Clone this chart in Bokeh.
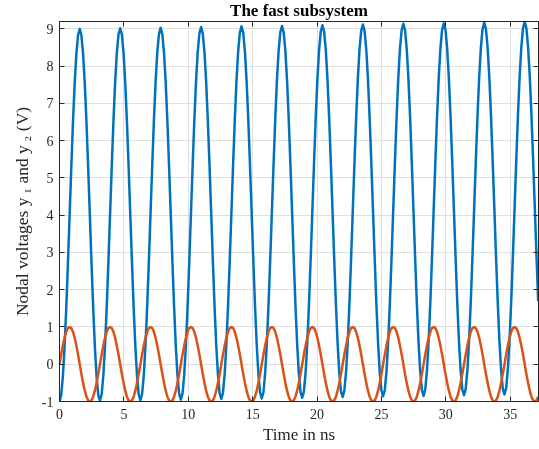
import numpy as np
from bokeh.plotting import figure
from bokeh.models import LinearAxis, Range1d, FixedTicker, Title, ColumnDataSource
from bokeh.embed import file_html
from bokeh.resources import INLINE

# ---------------- data ----------------
# samples are spaced 1/24 of one oscillation period (period ~ 3.14 ns)
SAMPLE_STEP_NS = np.pi / 24

# y1 (blue), one row per oscillation period; the level creeps up slightly
y1_rows = [
    [-1.00, -0.83, -0.33, 0.46, 1.50, 2.71, 4.00, 5.29, 6.50, 7.54, 8.33, 8.83, 9.00, 8.83, 8.33, 7.54, 6.50, 5.29, 4.00, 2.71, 1.50, 0.46, -0.33, -0.83],
    [-0.98, -0.81, -0.31, 0.48, 1.52, 2.73, 4.02, 5.31, 6.52, 7.56, 8.35, 8.85, 9.02, 8.85, 8.35, 7.56, 6.52, 5.31, 4.02, 2.73, 1.52, 0.48, -0.31, -0.81],
    [-0.97, -0.80, -0.30, 0.49, 1.53, 2.74, 4.03, 5.32, 6.53, 7.57, 8.36, 8.86, 9.03, 8.86, 8.36, 7.57, 6.53, 5.32, 4.03, 2.74, 1.53, 0.49, -0.30, -0.80],
    [-0.95, -0.78, -0.28, 0.51, 1.55, 2.76, 4.05, 5.34, 6.55, 7.59, 8.38, 8.88, 9.05, 8.88, 8.38, 7.59, 6.55, 5.34, 4.05, 2.76, 1.55, 0.51, -0.28, -0.78],
    [-0.93, -0.76, -0.26, 0.53, 1.57, 2.78, 4.07, 5.36, 6.57, 7.61, 8.40, 8.90, 9.07, 8.90, 8.40, 7.61, 6.57, 5.36, 4.07, 2.78, 1.57, 0.53, -0.26, -0.76],
    [-0.92, -0.75, -0.25, 0.54, 1.58, 2.79, 4.08, 5.37, 6.58, 7.62, 8.41, 8.91, 9.08, 8.91, 8.41, 7.62, 6.58, 5.37, 4.08, 2.79, 1.58, 0.54, -0.25, -0.75],
    [-0.90, -0.73, -0.23, 0.56, 1.60, 2.81, 4.10, 5.39, 6.60, 7.64, 8.43, 8.93, 9.10, 8.93, 8.43, 7.64, 6.60, 5.39, 4.10, 2.81, 1.60, 0.56, -0.23, -0.73],
    [-0.88, -0.71, -0.21, 0.58, 1.62, 2.83, 4.12, 5.41, 6.62, 7.66, 8.45, 8.95, 9.12, 8.95, 8.45, 7.66, 6.62, 5.41, 4.12, 2.83, 1.62, 0.58, -0.21, -0.71],
    [-0.86, -0.69, -0.19, 0.60, 1.64, 2.85, 4.14, 5.43, 6.64, 7.68, 8.47, 8.97, 9.14, 8.97, 8.47, 7.68, 6.64, 5.43, 4.14, 2.85, 1.64, 0.60, -0.19, -0.69],
    [-0.85, -0.68, -0.18, 0.61, 1.65, 2.86, 4.15, 5.44, 6.65, 7.69, 8.48, 8.98, 9.15, 8.98, 8.48, 7.69, 6.65, 5.44, 4.15, 2.86, 1.65, 0.61, -0.18, -0.68],
    [-0.83, -0.66, -0.16, 0.63, 1.67, 2.88, 4.17, 5.46, 6.67, 7.71, 8.50, 9.00, 9.17, 9.00, 8.50, 7.71, 6.67, 5.46, 4.17, 2.88, 1.67, 0.63, -0.16, -0.66],
    [-0.81, -0.64, -0.14, 0.65, 1.69, 2.90, 4.19, 5.48, 6.69, 7.73, 8.52, 9.02, 9.19, 9.02, 8.52, 7.73, 6.69, 5.48, 4.19, 2.90, 1.69],
]

# y2 (orange), same sampling
y2_rows = [
    [0, 0.26, 0.5, 0.71, 0.87, 0.97, 1, 0.97, 0.87, 0.71, 0.5, 0.26, 0, -0.26, -0.5, -0.71, -0.87, -0.97, -1, -0.97, -0.87, -0.71, -0.5, -0.26],
    [0, 0.26, 0.5, 0.71, 0.87, 0.97, 1, 0.97, 0.87, 0.71, 0.5, 0.26, 0, -0.26, -0.5, -0.71, -0.87, -0.97, -1, -0.97, -0.87, -0.71, -0.5, -0.26],
    [0, 0.26, 0.5, 0.71, 0.87, 0.97, 1, 0.97, 0.87, 0.71, 0.5, 0.26, 0, -0.26, -0.5, -0.71, -0.87, -0.97, -1, -0.97, -0.87, -0.71, -0.5, -0.26],
    [0, 0.26, 0.5, 0.71, 0.87, 0.97, 1, 0.97, 0.87, 0.71, 0.5, 0.26, 0, -0.26, -0.5, -0.71, -0.87, -0.97, -1, -0.97, -0.87, -0.71, -0.5, -0.26],
    [0, 0.26, 0.5, 0.71, 0.87, 0.97, 1, 0.97, 0.87, 0.71, 0.5, 0.26, 0, -0.26, -0.5, -0.71, -0.87, -0.97, -1, -0.97, -0.87, -0.71, -0.5, -0.26],
    [0, 0.26, 0.5, 0.71, 0.87, 0.97, 1, 0.97, 0.87, 0.71, 0.5, 0.26, 0, -0.26, -0.5, -0.71, -0.87, -0.97, -1, -0.97, -0.87, -0.71, -0.5, -0.26],
    [0, 0.26, 0.5, 0.71, 0.87, 0.97, 1, 0.97, 0.87, 0.71, 0.5, 0.26, 0, -0.26, -0.5, -0.71, -0.87, -0.97, -1, -0.97, -0.87, -0.71, -0.5, -0.26],
    [0, 0.26, 0.5, 0.71, 0.87, 0.97, 1, 0.97, 0.87, 0.71, 0.5, 0.26, 0, -0.26, -0.5, -0.71, -0.87, -0.97, -1, -0.97, -0.87, -0.71, -0.5, -0.26],
    [0, 0.26, 0.5, 0.71, 0.87, 0.97, 1, 0.97, 0.87, 0.71, 0.5, 0.26, 0, -0.26, -0.5, -0.71, -0.87, -0.97, -1, -0.97, -0.87, -0.71, -0.5, -0.26],
    [0, 0.26, 0.5, 0.71, 0.87, 0.97, 1, 0.97, 0.87, 0.71, 0.5, 0.26, 0, -0.26, -0.5, -0.71, -0.87, -0.97, -1, -0.97, -0.87, -0.71, -0.5, -0.26],
    [0, 0.26, 0.5, 0.71, 0.87, 0.97, 1, 0.97, 0.87, 0.71, 0.5, 0.26, 0, -0.26, -0.5, -0.71, -0.87, -0.97, -1, -0.97, -0.87, -0.71, -0.5, -0.26],
    [0, 0.26, 0.5, 0.71, 0.87, 0.97, 1, 0.97, 0.87, 0.71, 0.5, 0.26, 0, -0.26, -0.5, -0.71, -0.87, -0.97, -1, -0.97, -0.87],
]

x_ticks = [0, 5, 10, 15, 20, 25, 30, 35]
y_ticks = [-1, 0, 1, 2, 3, 4, 5, 6, 7, 8, 9]
x_limits = (0, 37.2)
y_limits = (-1, 9.2)

title_text = "The fast subsystem"
x_label = "Time in ns"
y_label = "Nodal voltages y\u2009\u2081 and y\u2009\u2082 (V)"

# ---------------- build ----------------
y1 = [v for row in y1_rows for v in row]
y2 = [v for row in y2_rows for v in row]
time_ns = [i * SAMPLE_STEP_NS for i in range(len(y1))]
src = ColumnDataSource(dict(t=time_ns, y1=y1, y2=y2))

AX = "#262626"
FONT = "Liberation Serif"
BLUE = "#0072BD"
ORANGE = "#D95319"

p = figure(width=531, height=449,
           x_range=Range1d(*x_limits), y_range=Range1d(*y_limits),
           output_backend="svg", toolbar_location=None, title=None,
           min_border_left=51, min_border_right=1,
           min_border_top=20, min_border_bottom=48)
# pin the figure to the window top so the title fits above the frame
p.styles = {"position": "fixed", "top": "0px", "left": "8px"}
p.outline_line_color = AX
p.outline_line_width = 1

xt = FixedTicker(ticks=x_ticks)
yt = FixedTicker(ticks=y_ticks)


def style_axis(ax, ticker, show_labels):
    ax.ticker = ticker
    ax.axis_line_color = AX
    ax.major_tick_line_color = AX
    ax.major_tick_in = 5
    ax.major_tick_out = 0
    ax.minor_tick_line_color = None
    ax.major_label_text_font = FONT
    if show_labels:
        ax.major_label_text_font_size = "14px"
        ax.major_label_text_color = AX
    else:
        ax.major_label_text_font_size = "0px"
        ax.major_label_text_color = None
        ax.major_label_standoff = 0
        ax.axis_label = None
        ax.axis_label_standoff = 0


xa = p.xaxis[0]
ya = p.yaxis[0]
style_axis(xa, xt, True)
style_axis(ya, yt, True)
xa.major_label_standoff = 7
ya.major_label_standoff = 6
ya.major_label_overrides = {-1: "-1"}
xa.axis_label = x_label
ya.axis_label = y_label
for ax in (xa, ya):
    ax.axis_label_text_font = FONT
    ax.axis_label_text_font_size = "17.5px"
    ax.axis_label_text_font_style = "normal"
    ax.axis_label_text_color = AX
xa.axis_label_text_font_size = "17px"
xa.axis_label_standoff = 3
ya.axis_label_standoff = 7

top_ax = LinearAxis()
right_ax = LinearAxis()
style_axis(top_ax, xt, False)
style_axis(right_ax, yt, False)
p.add_layout(top_ax, "above")
p.add_layout(right_ax, "right")

p.add_layout(Title(text=title_text, align="center", vertical_align="top",
                   text_font=FONT, text_font_size="17px", text_font_style="bold",
                   text_color="#000000", standoff=0), "above")

p.xgrid.ticker = xt
p.ygrid.ticker = yt
for g in (p.xgrid, p.ygrid):
    g.grid_line_color = "#dfdfdf"
    g.grid_line_width = 1

p.line("t", "y1", source=src, line_color=BLUE, line_width=2.5, line_join="round")
p.line("t", "y2", source=src, line_color=ORANGE, line_width=2.5, line_join="round")

open("out.html", "w").write(file_html(p, INLINE))
